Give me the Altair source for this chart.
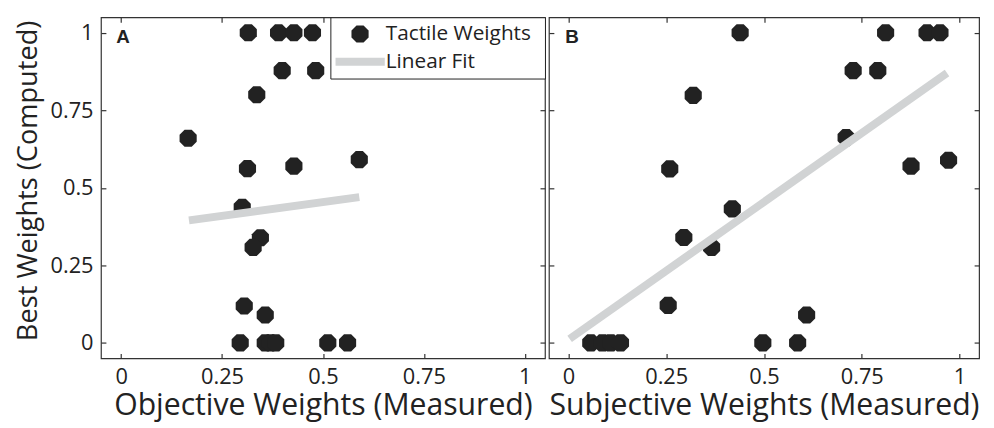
import altair as alt
import pandas as pd

# ---- data ----
a_x = [0.315, 0.390, 0.428, 0.474, 0.399, 0.482, 0.336, 0.166, 0.313, 0.428, 0.590,
       0.300, 0.345, 0.327, 0.305, 0.357, 0.295, 0.357, 0.370, 0.383, 0.512, 0.561]
a_y = [1.0, 1.0, 1.0, 1.0, 0.878, 0.878, 0.800, 0.660, 0.562, 0.570, 0.591,
       0.437, 0.339, 0.308, 0.119, 0.090, 0.0, 0.0, 0.0, 0.0, 0.0, 0.0]
a_fit_x = [0.168, 0.590]
a_fit_y = [0.395, 0.470]

b_x = [0.439, 0.811, 0.917, 0.950, 0.728, 0.791, 0.319, 0.710, 0.259, 0.876, 0.972,
       0.419, 0.295, 0.366, 0.255, 0.609, 0.057, 0.087, 0.108, 0.133, 0.497, 0.586]
b_y = [1.0, 1.0, 1.0, 1.0, 0.878, 0.878, 0.798, 0.662, 0.561, 0.570, 0.589,
       0.432, 0.340, 0.308, 0.121, 0.090, 0.0, 0.0, 0.0, 0.0, 0.0, 0.0]
b_fit_x = [0.003, 0.968]
b_fit_y = [0.013, 0.870]

tick_values = [0, 0.25, 0.5, 0.75, 1]
series_names = ["Tactile Weights", "Linear Fit"]
panel_letters = ["A", "B"]
letter_x = [-0.012, -0.008]
letter_y = [0.985, 0.985]
x_titles = ["Objective Weights (Measured)", "Subjective Weights (Measured)"]
y_title = "Best Weights (Computed)"

# ---- styling ----
OCTAGON = "M-0.414,-1L0.414,-1L1,-0.414L1,0.414L0.414,1L-0.414,1L-1,0.414L-1,-0.414Z"
DOT = "#222222"
FIT = "#d1d3d4"
BOX = "#333333"
FONT = "Open Sans"
H = 345
WIDTHS = [449, 435]


def tick_axis(orient, offset):
    return alt.Axis(orient=orient, offset=offset, values=tick_values, labels=False,
                    ticks=True, tickSize=5, tickWidth=1.2, tickColor=BOX,
                    domain=False, grid=False, title=None)


def panel(i, xs, ys, fx, fy, show_y, show_legend):
    width = WIDTHS[i]
    scale = alt.Scale(domain=[-0.05, 1.05], nice=False, zero=False)
    xmain = alt.Axis(orient="bottom", values=tick_values, format=".2~f", ticks=False,
                     domain=False, grid=False, title=x_titles[i],
                     labelFont=FONT, labelFontSize=22, labelColor=DOT, labelPadding=8,
                     titleFont=FONT, titleFontSize=30.5, titleFontWeight="normal",
                     titleColor=DOT, titlePadding=4)
    if show_y:
        ymain = alt.Axis(orient="left", values=tick_values, format=".2~f", ticks=False,
                         domain=False, grid=False, title=y_title,
                         labelFont=FONT, labelFontSize=22, labelColor=DOT, labelPadding=8,
                         titleFont=FONT, titleFontSize=27.5, titleFontWeight="normal",
                         titleColor=DOT, titlePadding=8, titleY=165)
    else:
        ymain = alt.Axis(orient="left", values=tick_values, labels=False, ticks=False,
                         domain=False, grid=False, title=None)

    pts_df = pd.DataFrame({"x": xs, "y": ys})
    fit_df = pd.DataFrame({"x": fx, "y": fy})
    txt_df = pd.DataFrame({"label": [panel_letters[i]], "x": [letter_x[i]], "y": [letter_y[i]]})

    points = alt.Chart(pts_df).mark_point(
        filled=True, shape=OCTAGON, size=300, color=DOT, opacity=1, strokeWidth=0
    ).encode(
        x=alt.X("x:Q", scale=scale, axis=xmain),
        y=alt.Y("y:Q", scale=scale, axis=ymain),
    )
    fit = alt.Chart(fit_df).mark_line(color=FIT, strokeWidth=8, strokeCap="butt").encode(
        x=alt.X("x:Q", scale=scale, axis=tick_axis("top", -H)),
        y=alt.Y("y:Q", scale=scale, axis=tick_axis("right", -width)),
    )
    letter = alt.Chart(txt_df).mark_text(
        font="Liberation Sans", fontWeight="bold", fontSize=19, align="left",
        baseline="middle", color=DOT
    ).encode(
        x=alt.X("x:Q", scale=scale, axis=tick_axis("bottom", -H)),
        y=alt.Y("y:Q", scale=scale, axis=tick_axis("left", -width)),
        text="label:N",
    )
    layers = [points, fit, letter]
    if show_legend:
        leg_df = pd.DataFrame({"series": series_names, "x": [None, None], "y": [None, None]})
        leg = alt.Legend(title="\u00a0", titleOrient="right", titlePadding=9,
                         titleFont=FONT, titleFontSize=21, titleFontWeight="normal",
                         orient="top-right", offset=0, padding=5,
                         strokeColor=DOT, fillColor="white", symbolStrokeWidth=8,
                         symbolOpacity=1, symbolFillColor=DOT, clipHeight=24,
                         rowPadding=4, labelFont=FONT, labelFontSize=21,
                         labelColor=DOT, labelLimit=300,
                         labelOffset={"expr": "-3"}, symbolOffset={"expr": "-4"})
        legend_layer = alt.Chart(leg_df).mark_point(filled=True, opacity=0).encode(
            x=alt.X("x:Q", scale=scale, axis=None),
            y=alt.Y("y:Q", scale=scale, axis=None),
            fill=alt.Fill("series:N", scale=alt.Scale(domain=series_names, range=[DOT, "transparent"]), legend=leg),
            stroke=alt.Stroke("series:N", scale=alt.Scale(domain=series_names, range=["transparent", FIT]), legend=leg),
            shape=alt.Shape("series:N", scale=alt.Scale(domain=series_names, range=[OCTAGON, "stroke"]), legend=leg),
            size=alt.Size("series:N", scale=alt.Scale(type="ordinal", domain=series_names, range=[300, 2500]), legend=leg),
        )
        layers.insert(2, legend_layer)
    return alt.layer(*layers).resolve_axis(x="independent", y="independent").properties(
        width=width, height=H)


panel_a = panel(0, a_x, a_y, a_fit_x, a_fit_y, True, True)
panel_b = panel(1, b_x, b_y, b_fit_x, b_fit_y, False, False)

chart = alt.hconcat(panel_a, panel_b, spacing=0).resolve_legend(
    fill="independent", stroke="independent", shape="independent", size="independent"
).properties(
    padding={"left": 5, "top": 5, "right": 5, "bottom": 0}
).configure(font=FONT).configure_view(stroke=BOX, strokeWidth=1.2)

chart.save("out.html", embed_options={"renderer": "svg", "actions": False})
